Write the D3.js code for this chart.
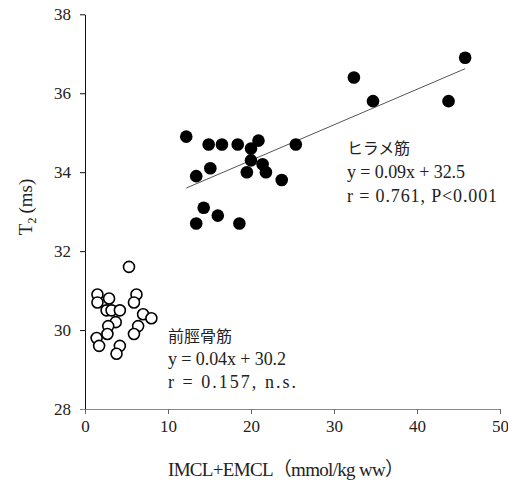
<!DOCTYPE html>
<html>
<head>
<meta charset="utf-8">
<script src="https://cdn.jsdelivr.net/npm/d3@7"></script>
<style>
  body { margin: 0; background: #fff; }
  text { font-family: "Liberation Serif", "Noto Sans CJK JP", serif; fill: #222; }
  .jp { font-family: "Noto Sans CJK JP", sans-serif; }
</style>
</head>
<body>
<div id="chart"></div>
<script>
// soleus (ヒラメ筋) points: [IMCL+EMCL, T2]
var soleusX = [12.2, 14.9, 16.5, 18.4, 20.9, 20.0, 20.0, 21.4, 21.8, 19.5, 15.1, 13.4, 23.7, 25.4, 14.3, 16.0, 13.4, 18.6, 32.4, 34.7, 43.8, 45.8];
var soleusY = [34.9, 34.7, 34.7, 34.7, 34.8, 34.6, 34.3, 34.2, 34.0, 34.0, 34.1, 33.9, 33.8, 34.7, 33.1, 32.9, 32.7, 32.7, 36.4, 35.8, 35.8, 36.9];

// tibialis anterior (前脛骨筋) points
var tibialisX = [5.3, 1.5, 1.5, 2.9, 6.2, 5.9, 2.6, 3.2, 4.2, 3.7, 7.0, 8.0, 2.8, 6.4, 2.7, 5.9, 1.4, 1.7, 4.2, 3.8];
var tibialisY = [31.6, 30.9, 30.7, 30.8, 30.9, 30.7, 30.5, 30.5, 30.5, 30.2, 30.4, 30.3, 30.1, 30.1, 29.9, 29.9, 29.8, 29.6, 29.6, 29.4];

// regression for soleus
var fitSlope = 0.09, fitIntercept = 32.5;

var xTicks = [0, 10, 20, 30, 40, 50];
var yTicks = [28, 30, 32, 34, 36, 38];

var soleusLabel = ["ヒラメ筋", "y = 0.09x + 32.5", "r = 0.761, P<0.001"];
var tibialisLabel = ["前脛骨筋", "y = 0.04x + 30.2", "r = 0.157, n.s."];

var svgWidth = 508, svgHeight = 481;

var svg = d3.select("#chart")
  .append("svg")
  .attr("width", svgWidth)
  .attr("height", svgHeight);

var x = d3.scaleLinear().domain([0, 50]).range([85, 500]);
var y = d3.scaleLinear().domain([28, 38]).range([409, 14.3]);

// y axis
var yAxisG = svg.append("g")
  .attr("transform", "translate(85,0)")
  .call(d3.axisLeft(y).tickValues(yTicks).tickSize(5).tickPadding(9).tickSizeOuter(0));
yAxisG.select(".domain").attr("stroke", "#111");
yAxisG.selectAll(".tick line").attr("stroke", "#111");
yAxisG.selectAll(".tick text")
  .attr("font-family", "Liberation Serif, serif")
  .attr("font-size", 17)
  .attr("fill", "#333");

// x axis (grey)
var xAxisG = svg.append("g")
  .attr("transform", "translate(0,409)")
  .call(d3.axisBottom(x).tickValues(xTicks).tickSize(5).tickPadding(6).tickSizeOuter(0));
xAxisG.select(".domain").attr("stroke", "#888");
xAxisG.selectAll(".tick line").attr("stroke", "#666");
xAxisG.selectAll(".tick text")
  .attr("font-family", "Liberation Serif, serif")
  .attr("font-size", 17)
  .attr("fill", "#333");
// extend the x axis line to the left of the y axis
xAxisG.append("line")
  .attr("x1", 80).attr("x2", 85)
  .attr("y1", 0.5).attr("y2", 0.5)
  .attr("stroke", "#888");

// axis titles
svg.append("text")
  .attr("x", 286)
  .attr("y", 476)
  .attr("text-anchor", "middle")
  .attr("font-size", 19)
  .attr("fill", "#333")
  .attr("textLength", 236)
  .text("IMCL+EMCL（mmol/kg ww）");

var yTitle = svg.append("text")
  .attr("transform", "translate(32,207) rotate(-90)")
  .attr("text-anchor", "middle")
  .attr("font-size", 19)
  .attr("fill", "#333");
yTitle.append("tspan").text("T");
yTitle.append("tspan").attr("font-size", 12).attr("dy", 4).text("2");
yTitle.append("tspan").attr("dy", -4).attr("dx", 4).text("(ms)");

// regression line
var xmin = d3.min(soleusX), xmax = d3.max(soleusX);
svg.append("line")
  .attr("x1", x(xmin)).attr("y1", y(fitSlope * xmin + fitIntercept))
  .attr("x2", x(xmax)).attr("y2", y(fitSlope * xmax + fitIntercept))
  .attr("stroke", "#555")
  .attr("stroke-width", 1);

// points
var tibialis = tibialisX.map((d, i) => ({x: d, y: tibialisY[i]}));
var soleus = soleusX.map((d, i) => ({x: d, y: soleusY[i]}));

svg.append("g").selectAll("circle")
  .data(tibialis)
  .enter()
  .append("circle")
  .attr("cx", d => x(d.x))
  .attr("cy", d => y(d.y))
  .attr("r", 5.5)
  .attr("fill", "#fff")
  .attr("stroke", "#000")
  .attr("stroke-width", 1.6);

svg.append("g").selectAll("circle")
  .data(soleus)
  .enter()
  .append("circle")
  .attr("cx", d => x(d.x))
  .attr("cy", d => y(d.y))
  .attr("r", 6.3)
  .attr("fill", "#000");

// annotations (widths matched to the original text)
function annotate(lines, left, top, step, widths) {
  var g = svg.append("g");
  lines.forEach(function(t, i) {
    g.append("text")
      .attr("class", i == 0 ? "jp" : null)
      .attr("x", left)
      .attr("y", top + i * step)
      .attr("font-size", i == 0 ? 16 : 18)
      .attr("fill", "#333")
      .attr("textLength", widths[i])
      .attr("lengthAdjust", "spacing")
      .text(t);
  });
}
annotate(soleusLabel, 347, 154, 24, [63, 118, 150]);
annotate(tibialisLabel, 168, 342, 23, [64, 118, 128]);
</script>
</body>
</html>
